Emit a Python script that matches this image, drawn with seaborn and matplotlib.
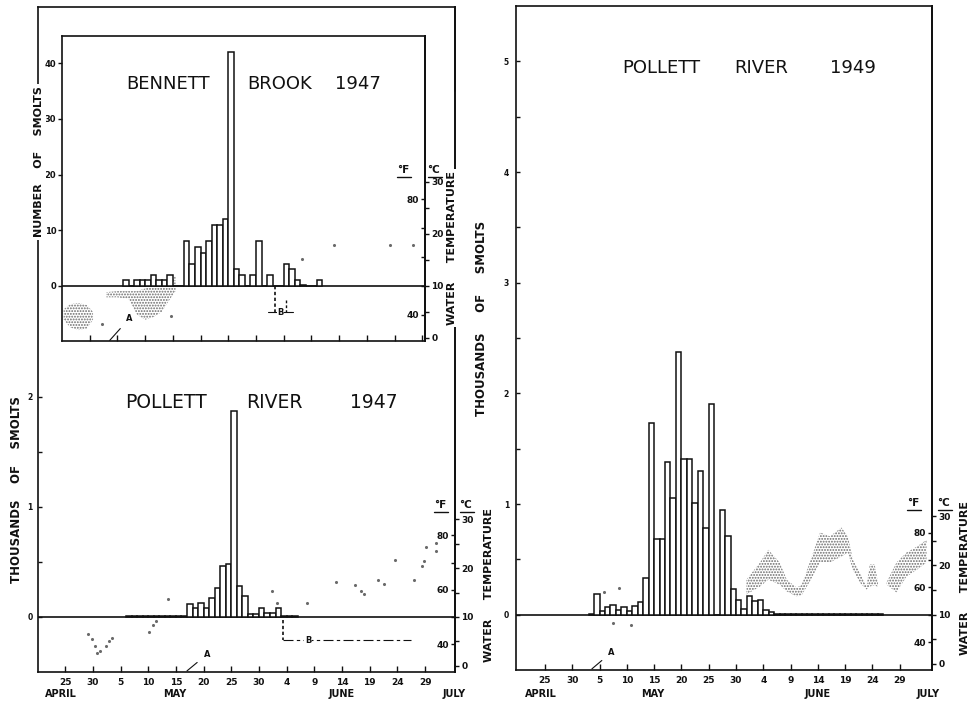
import numpy as np
import pandas as pd
import matplotlib
matplotlib.use("Agg")
import matplotlib.pyplot as plt
import matplotlib.ticker as mticker
from matplotlib.lines import Line2D
import seaborn as sns

# ── Style ──────────────────────────────────────────────────────────────────
sns.set_theme(style="ticks")
plt.rcParams["font.family"] = ["DejaVu Sans"]
plt.rcParams["hatch.linewidth"] = 0.9
INK = "#111111"
STIPPLE = "#6a6a6a"

# ── Data (days counted from 1 April: 25 = Apr 25, 35 = May 5, 65 = Jun 4) ──
TICK_DAYS = [25, 30, 35, 40, 45, 50, 55, 60, 65, 70, 75, 80, 85, 90]
TICK_LABELS = ["25", "30", "5", "10", "15", "20", "25", "30", "4", "9", "14", "19", "24", "29"]
MONTHS = ["APRIL", "MAY", "JUNE", "JULY"]
MONTH_DAYS = [24.3, 44.8, 75.0, 95.2]

# Bennett Brook 1947 - number of smolts per day
bb_days = [36, 37, 38, 39, 40, 41, 42, 43, 44, 45, 46, 47, 48, 49, 50, 51, 52, 53,
           54, 55, 56, 57, 58, 59, 60, 61, 62, 63, 64, 65, 66, 67, 68, 69, 70, 71]
bb_count = [1, 0, 1, 1, 1, 2, 1, 1, 2, 0, 0, 8, 4, 7, 6, 8, 11, 11,
            12, 42, 3, 2, 0, 2, 8, 0, 2, 0, 0, 4, 3, 1, 0.2, 0, 0, 1]

# Bennett Brook 1947 - water temperature (deg C), daily range and single readings
bb_t_days = [25.3, 26.5, 28.0, 29.5, 30.6, 31.5, 33.0, 35.0, 37.0, 38.5, 40.0, 41.5, 43.0, 44.5, 45.5]
bb_t_lo = [3.5, 2.0, 1.5, 1.8, 3.5, np.nan, 7.8, 7.8, 7.5, 4.5, 3.5, 4.0, 5.0, 7.5, 9.0]
bb_t_hi = [5.5, 6.5, 6.7, 6.3, 5.0, np.nan, 8.8, 9.0, 9.0, 9.0, 9.5, 10.0, 10.5, 11.5, 11.8]
bb_dot_days = [32.2, 44.7, 68.3, 74.1, 84.2, 88.3]
bb_dot_temp = [2.6, 4.2, 15.2, 17.9, 17.9, 17.9]

# Pollett River 1947 - thousands of smolts per day
p47_days = [36, 37, 38, 39, 40, 41, 42, 43, 44, 45, 46, 47, 48, 49, 50, 51,
            52, 53, 54, 55, 56, 57, 58, 59, 60, 61, 62, 63, 64, 65, 66]
p47_count = [0.005, 0.005, 0.005, 0.005, 0.005, 0.005, 0.005, 0.005, 0.005, 0.005, 0.005,
             0.12, 0.08, 0.13, 0.08, 0.17, 0.26, 0.46, 0.48, 1.87, 0.28, 0.19, 0.03, 0.03,
             0.08, 0.04, 0.04, 0.08, 0.005, 0.005, 0.005]
p47_dot_days = [29.2, 29.8, 30.4, 30.8, 31.3, 32.3, 33.0, 33.4, 40.2, 40.8, 41.4, 43.5, 62.3, 63.2,
                68.7, 74.0, 77.4, 78.5, 79.0, 81.5, 82.5, 84.6, 88.0, 89.4, 89.8, 90.2, 91.9, 92.0]
p47_dot_temp = [6.5, 5.5, 4.0, 2.6, 3.0, 4.0, 5.0, 5.7, 7.0, 8.4, 9.2, 13.7, 15.4, 12.9,
                12.9, 17.1, 16.6, 15.3, 14.6, 17.5, 16.8, 21.7, 17.5, 20.5, 21.5, 24.4, 25.1, 23.5]

# Pollett River 1949 - thousands of smolts per day
p49_days = [33, 34, 35, 36, 37, 38, 39, 40, 41, 42, 43, 44, 45, 46, 47, 48, 49, 50,
            51, 52, 53, 54, 55, 56, 57, 58, 59, 60, 61, 62, 63, 64, 65, 66, 67, 68,
            69, 70, 71, 72, 73, 74, 75, 76, 77, 78, 79, 80, 81, 82, 83, 84, 85, 86]
p49_count = [0.01, 0.19, 0.03, 0.07, 0.09, 0.04, 0.07, 0.03, 0.08, 0.11, 0.33, 1.73, 0.68, 0.68,
             1.38, 1.05, 2.37, 1.41, 1.41, 1.01, 1.30, 0.78, 1.90, 0.0, 0.95, 0.71, 0.23, 0.13,
             0.05, 0.17, 0.12, 0.13, 0.04, 0.02, 0.01, 0.005, 0.005, 0.01, 0.01, 0.01, 0.01,
             0.01, 0.005, 0.005, 0.01, 0.005, 0.005, 0.01, 0.005, 0.01, 0.005, 0.005, 0.01, 0.005]
p49_t_days = [61.9, 64.4, 65.9, 68.0, 69.3, 71.1, 72.0, 73.5, 75.4, 77.2, 79.3, 80.5,
              81.4, 82.7, 83.9, 84.5, 85.4, 86.0, 86.6, 87.6, 89.4, 91.2, 93.1, 94.9]
p49_t_lo = [14.1, 15.7, 17.1, 16.1, 14.7, 13.7, 13.9, 16.7, 20.6, 20.6, 21.8, 22.6,
            19.1, 16.5, 15.1, 15.7, 16.0, 15.6, np.nan, 16.1, 14.5, 17.7, 19.1, 20.6]
p49_t_hi = [17.1, 20.6, 23.2, 20.6, 17.1, 15.5, 16.0, 20.6, 26.7, 25.9, 27.7, 25.9,
            21.2, 18.5, 15.7, 20.2, 20.2, 16.5, np.nan, 16.6, 20.6, 22.6, 23.8, 25.2]
p49_dot_days = [35.9, 37.4, 38.6, 40.8]
p49_dot_temp = [14.7, 8.3, 15.4, 8.0]

# marker dates (A = start, B = interval)
A_DAY = {"bb": 33.6, "p47": 47.0, "p49": 33.6}
B_BB = (63.4, 65.4, 62.2, 66.7)
B_P47 = (64.4, 87.4)

# ── Layout helpers ─────────────────────────────────────────────────────────
W, H = 979, 702
fig = plt.figure(figsize=(W / 100, H / 100), dpi=100)


def px_axes(left, top, right, bottom, **kw):
    return fig.add_axes([left / W, 1 - bottom / H, (right - left) / W, (bottom - top) / H], **kw)


def label(x, y, s, size=8, weight="bold", rot=0, box=False, **kw):
    bbox = dict(facecolor="white", edgecolor="none", pad=1.5) if box else None
    fig.text(x / W, 1 - y / H, s, ha="center", va="center", fontsize=size, fontweight=weight,
             rotation=rot, color=INK, bbox=bbox, zorder=10, **kw)


def underline(x0, x1, y):
    fig.add_artist(Line2D([x0 / W, x1 / W], [1 - y / H, 1 - y / H], transform=fig.transFigure,
                          color=INK, lw=1.0, zorder=10))


def bars(ax, days, values):
    frame = pd.DataFrame({"day": np.asarray(days, dtype=float) + 0.5, "n": values})
    sns.barplot(data=frame, x="day", y="n", native_scale=True, width=1.0, color="white",
                edgecolor=INK, linewidth=1.1, errorbar=None, ax=ax, zorder=3)
    ax.set_xlabel("")
    ax.set_ylabel("")


def day_axis(ax, lo, hi, labels=True):
    ax.set_xlim(lo, hi)
    ax.set_xticks(TICK_DAYS)
    ax.set_xticklabels(TICK_LABELS if labels else [])
    ax.tick_params(axis="x", direction="in", length=4, width=1, pad=4.5, labelsize=6.5, colors=INK)
    plt.setp(ax.get_xticklabels(), fontweight="bold")
    for sp in ax.spines.values():
        sp.set_visible(True)
        sp.set_color(INK)
        sp.set_linewidth(1.2)
    ax.axhline(0, color=INK, lw=1.2, zorder=2)


def temp_scale(ax, k, f_labels):
    sc = ax.secondary_yaxis("right", functions=(lambda y: y / k + 10, lambda c: (c - 10) * k))
    sc.set_yticks([0, 10, 20, 30], ["0", "10", "20", "30"])
    sc.yaxis.set_minor_locator(mticker.FixedLocator([5, 15, 25]))
    sf = ax.secondary_yaxis("right", functions=(lambda y: (y / k + 10) * 1.8 + 32,
                                                lambda f: ((f - 32) / 1.8 - 10) * k))
    sf.set_alignment("left")
    sf.set_yticks([40, 60, 80], f_labels)
    sf.yaxis.set_minor_locator(mticker.FixedLocator([50, 70]))
    for s in (sc, sf):
        s.tick_params(which="both", direction="out", length=3, width=1, labelsize=6.5,
                      pad=1.5, colors=INK)
        plt.setp(s.get_yticklabels(), fontweight="bold")
        for sp in s.spines.values():
            sp.set_color(INK)
            sp.set_linewidth(1.2)


def months(ax, dy):
    for m, d in zip(MONTHS, MONTH_DAYS):
        ax.annotate(m, xy=(d, 0), xycoords=("data", "axes fraction"), xytext=(0, dy),
                    textcoords="offset pixels", ha="center", va="center", fontsize=7,
                    fontweight="bold", color=INK, annotation_clip=False)


def mark_a(ax, day, y0, dy):
    ax.annotate("A", xy=(day, y0), xytext=(day + 3.6, y0 + dy), fontsize=6, fontweight="bold",
                color=INK, ha="center", va="center",
                arrowprops=dict(arrowstyle="-", color=INK, lw=0.8, shrinkA=3, shrinkB=0))


# ══════════════════════════════════════════════════════════════════════════
# Pollett River 1947 (left, with Bennett Brook inset)
# ══════════════════════════════════════════════════════════════════════════
K = 0.0445  # thousands of smolts per deg C on the temperature scales
ax47 = px_axes(38, 7, 455, 672)
bars(ax47, p47_days, p47_count)
sns.scatterplot(x=p47_dot_days, y=(np.array(p47_dot_temp) - 10) * K, ax=ax47, s=5,
                color=STIPPLE, linewidth=0, legend=False, zorder=1)
day_axis(ax47, 20.1, 95.4)
ax47.set_ylim(-0.5, 5.545)
ax47.set_yticks([0, 1, 2], ["0", "1", "2"])
ax47.set_yticks([0.5, 1.5], minor=True)
ax47.tick_params(axis="y", which="both", direction="in", length=3, width=1, labelsize=5.5,
                 pad=4, colors=INK)
plt.setp(ax47.get_yticklabels(), fontweight="bold")
ax47.spines["right"].set_bounds(-0.5, 2.24)
ax47.axvline(95.4, ymin=0.874, ymax=1, color=INK, lw=1.2, clip_on=False)
temp_scale(ax47, K, ["40", "60", "80"])
months(ax47, -22)
mark_a(ax47, A_DAY["p47"], -0.49, 0.15)
ax47.plot([B_P47[0], B_P47[0]], [-0.03, -0.21], color=INK, lw=1.2, ls=(0, (2, 1.5)))
ax47.plot([B_P47[0], B_P47[1]], [-0.21, -0.21], color=INK, lw=0.8, ls=(0, (9, 3, 3, 3)))
ax47.text(68.9, -0.21, "B", fontsize=6, fontweight="bold", color=INK, ha="center", va="center",
          bbox=dict(facecolor="white", edgecolor="none", pad=0.5))

axbb = px_axes(62, 36, 425, 341, zorder=5)
axbb.set_facecolor("white")
axbb.fill_between(bb_t_days, (np.array(bb_t_lo) - 10) * 0.934, (np.array(bb_t_hi) - 10) * 0.934,
                  facecolor="none", edgecolor=STIPPLE, hatch="......", linewidth=0, zorder=1)
bars(axbb, bb_days, bb_count)
sns.scatterplot(x=bb_dot_days, y=(np.array(bb_dot_temp) - 10) * 0.934, ax=axbb, s=5,
                color=STIPPLE, linewidth=0, legend=False, zorder=1)
day_axis(axbb, 25.0, 90.5, labels=False)
axbb.set_xticks(list(range(30, 91, 5)))
axbb.set_ylim(-9.9, 44.9)
axbb.set_yticks([0, 10, 20, 30, 40], ["0", "10", "20", "30", "40"])
axbb.tick_params(axis="y", direction="out", length=3, width=1, labelsize=6, pad=1, colors=INK)
plt.setp(axbb.get_yticklabels(), fontweight="bold")
temp_scale(axbb, 0.934, ["40", "", "80"])
mark_a(axbb, A_DAY["bb"], -9.8, 4.0)
axbb.plot([B_BB[0], B_BB[0]], [0, -4.7], color=INK, lw=1.2, ls=(0, (2, 1.5)))
axbb.plot([B_BB[1], B_BB[1]], [-2.5, -4.7], color=INK, lw=1.0, ls=(0, (2, 1.5)))
axbb.plot([B_BB[2], B_BB[3]], [-4.7, -4.7], color=INK, lw=0.8)
axbb.text(64.4, -4.7, "B", fontsize=6, fontweight="bold", color=INK, ha="center", va="center",
          bbox=dict(facecolor="white", edgecolor="none", pad=0.5))

# ══════════════════════════════════════════════════════════════════════════
# Pollett River 1949 (right)
# ══════════════════════════════════════════════════════════════════════════
ax49 = px_axes(516, 6, 932, 670)
ax49.fill_between(p49_t_days, (np.array(p49_t_lo) - 10) * K, (np.array(p49_t_hi) - 10) * K,
                  facecolor="none", edgecolor=STIPPLE, hatch="......", linewidth=0, zorder=1)
bars(ax49, p49_days, p49_count)
sns.scatterplot(x=p49_dot_days, y=(np.array(p49_dot_temp) - 10) * K, ax=ax49, s=5,
                color=STIPPLE, linewidth=0, legend=False, zorder=1)
day_axis(ax49, 19.7, 95.9)
ax49.set_ylim(-0.5, 5.5)
ax49.set_yticks([0, 1, 2, 3, 4, 5], ["0", "1", "2", "3", "4", "5"])
ax49.set_yticks([0.5, 1.5, 2.5, 3.5, 4.5], minor=True)
ax49.tick_params(axis="y", which="both", direction="in", length=3, width=1, labelsize=5.5,
                 pad=5, colors=INK)
plt.setp(ax49.get_yticklabels(), fontweight="bold")
temp_scale(ax49, K, ["40", "60", "80"])
months(ax49, -24)
mark_a(ax49, A_DAY["p49"], -0.49, 0.15)

# ── Titles and axis labels ─────────────────────────────────────────────────
for word, x in [("BENNETT", 168), ("BROOK", 280), ("1947", 358)]:
    label(x, 84, word, size=13, weight="normal")
for word, x in [("POLLETT", 166), ("RIVER", 274), ("1947", 374)]:
    label(x, 403, word, size=13.5, weight="normal")
for word, x in [("POLLETT", 661), ("RIVER", 761), ("1949", 853)]:
    label(x, 68, word, size=13, weight="normal")

label(17, 490, "THOUSANDS    OF    SMOLTS", size=8.5, rot=90)
label(482, 318, "THOUSANDS     OF     SMOLTS", size=8.5, rot=90)
label(39, 162, "NUMBER    OF    SMOLTS", size=8, rot=90, box=True)
label(965, 578, "WATER     TEMPERATURE", size=8, rot=90)
label(489, 585, "WATER     TEMPERATURE", size=8, rot=90)
label(452, 248, "WATER     TEMPERATURE", size=8, rot=90, box=True)

for xf, xc, y in [(913, 944, 503), (440, 466, 505), (403, 434, 170)]:
    label(xf, y, "°F", size=7.5)
    label(xc, y, "°C", size=7.5)
    underline(xf - 6, xf + 8, y + 7)
    underline(xc - 6, xc + 8, y + 7)

fig.savefig("out.png", dpi=100)
